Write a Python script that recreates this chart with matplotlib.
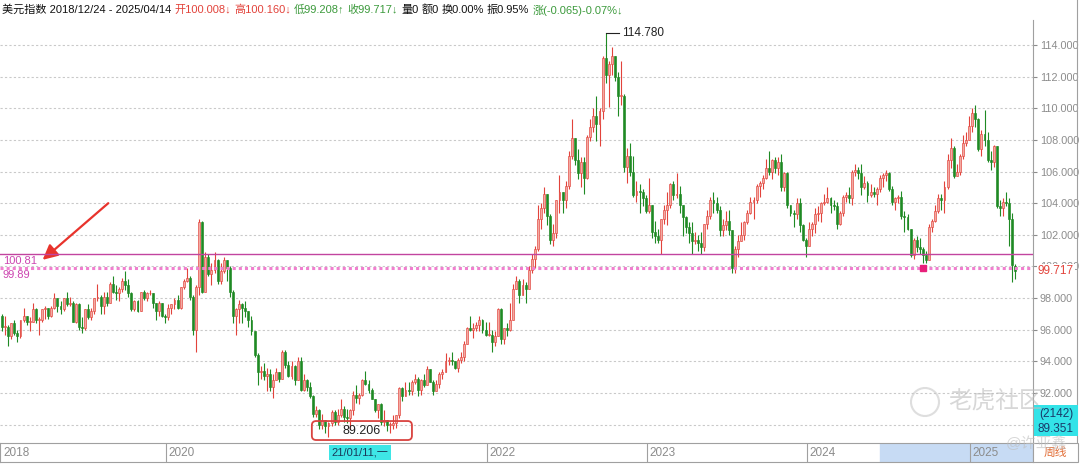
import numpy as np
import pandas as pd
import matplotlib
matplotlib.use('Agg')
import matplotlib.pyplot as plt
from matplotlib.ticker import FormatStrFormatter
from matplotlib.patches import FancyBboxPatch, Rectangle

plt.rcParams['font.family'] = ['Liberation Sans', 'Noto Sans CJK SC', 'DejaVu Sans']

# weekly US dollar index candles, 2018/12/24 .. 2025/04/14
start, end = '2018-12-24', '2025-04-14'
first_open = 96.9
last_open = 100.008

# header figures for the last week
change = -0.065
change_pct = -0.07
amplitude_pct = 0.95

c18 = [96.2]
h18 = [97.0]
l18 = [95.9]

c19 = [96.2, 95.6, 96.4, 95.8, 95.6, 96.6, 96.9, 96.5, 96.5, 97.3, 96.6, 96.6, 97.3, 97.4, 96.9, 97.4, 98.0, 97.5,
       97.3, 98.0, 97.6, 97.7, 96.5, 97.6, 96.2, 96.1, 97.3, 96.8, 97.2, 98.0, 98.1, 97.5, 98.1, 97.7, 98.9, 98.4,
       98.3, 98.6, 99.1, 98.8, 98.3, 97.3, 97.8, 97.2, 98.4, 98.0, 98.3, 98.3, 97.7, 97.2, 97.7, 96.9, 96.8]
h19 = [96.9, 96.3, 96.4, 96.6, 96.0, 96.6, 97.4, 96.9, 96.8, 97.7, 97.4, 96.8, 97.3, 97.5, 97.4, 97.5, 98.3, 98.0,
       97.8, 98.0, 98.4, 98.1, 97.8, 97.7, 97.7, 96.8, 97.3, 97.6, 97.4, 98.0, 98.9, 98.2, 98.4, 98.4, 99.0, 99.4,
       98.8, 98.7, 99.3, 99.7, 99.2, 98.4, 97.9, 97.9, 98.4, 98.5, 98.4, 98.5, 98.3, 97.7, 97.8, 97.7, 97.0]
l19 = [95.7, 95.0, 95.4, 95.7, 95.2, 95.5, 96.5, 96.3, 95.9, 96.5, 96.4, 95.7, 96.5, 96.7, 96.7, 96.8, 97.3, 97.1,
       97.0, 97.2, 97.5, 97.5, 96.5, 96.4, 96.0, 95.8, 96.0, 96.7, 96.6, 97.0, 97.8, 97.0, 97.0, 97.5, 97.8, 98.3,
       97.9, 97.8, 98.4, 98.5, 98.1, 97.2, 97.2, 97.1, 97.2, 97.9, 97.8, 98.2, 97.4, 96.6, 96.9, 96.8, 96.4]

c20 = [97.4, 97.6, 97.9, 97.4, 98.7, 99.1, 99.3, 98.1, 96.0, 98.7, 102.8, 98.4, 100.6, 99.5, 99.8, 100.4, 99.1,
       99.7, 100.4, 99.9, 98.4, 96.9, 97.3, 97.6, 97.4, 97.2, 96.6, 95.9, 94.4, 93.3, 93.4, 93.1, 93.2, 92.4, 92.8,
       93.3, 92.9, 94.6, 93.8, 93.1, 93.7, 92.8, 94.0, 92.2, 92.8, 92.4, 91.8, 90.7, 90.9, 90.0, 90.3, 89.9]
h20 = [97.6, 97.6, 98.0, 98.2, 98.7, 99.2, 99.9, 99.4, 98.2, 98.8, 103.0, 102.9, 100.9, 100.8, 100.2, 100.9, 100.5,
       100.2, 100.6, 100.4, 100.0, 98.5, 97.4, 97.9, 97.7, 97.8, 97.1, 96.9, 95.9, 94.5, 93.7, 93.9, 93.6, 93.5, 93.2,
       93.6, 93.3, 94.7, 94.7, 94.0, 94.0, 93.8, 94.3, 94.3, 93.2, 92.9, 92.7, 91.9, 91.2, 91.0, 90.7, 90.3]
l20 = [96.6, 97.0, 97.3, 97.3, 97.3, 98.6, 99.0, 97.9, 95.7, 94.6, 98.2, 98.3, 98.8, 99.4, 98.8, 99.6, 98.9,
       98.9, 99.6, 99.1, 98.1, 96.4, 95.7, 96.4, 96.4, 96.8, 96.2, 95.7, 94.3, 92.5, 92.9, 92.8, 92.1, 92.1, 91.7,
       92.8, 92.7, 92.9, 93.6, 93.0, 92.9, 92.5, 92.8, 92.1, 92.1, 92.1, 91.7, 90.5, 90.5, 89.7, 89.7, 89.5]

c21 = [90.1, 90.8, 90.2, 90.6, 91.0, 90.5, 90.4, 90.9, 91.9, 91.7, 91.9, 92.8, 92.6, 92.2, 91.6, 90.9, 91.3, 90.2,
       90.3, 90.0, 90.0, 90.1, 90.6, 92.3, 91.8, 92.2, 92.1, 92.7, 92.9, 92.2, 92.8, 92.5, 93.5, 92.7, 92.1, 92.6,
       93.2, 93.3, 94.0, 94.1, 94.0, 93.6, 94.1, 94.3, 95.1, 96.1, 96.0, 96.1, 96.3, 96.6, 96.0, 95.7]
h21 = [90.2, 90.9, 90.9, 91.0, 91.6, 91.2, 91.0, 91.0, 92.1, 92.5, 92.0, 92.9, 93.4, 92.8, 92.3, 91.6, 91.3, 91.4,
       90.9, 90.3, 90.2, 90.6, 90.6, 92.4, 92.4, 92.7, 92.7, 92.8, 93.2, 93.0, 92.9, 93.2, 93.7, 93.5, 92.8, 92.8,
       93.3, 93.5, 94.5, 94.3, 94.6, 94.0, 94.2, 94.6, 95.3, 96.2, 96.9, 96.4, 96.5, 96.9, 96.7, 96.5]
l21 = [89.206, 89.9, 90.0, 90.0, 90.5, 90.2, 90.1, 89.7, 90.6, 91.4, 91.3, 91.8, 92.5, 92.0, 91.6, 90.8, 90.4, 90.0,
       89.9, 89.6, 89.5, 89.7, 89.8, 90.4, 91.5, 91.8, 91.9, 91.9, 92.6, 91.8, 91.9, 92.4, 92.6, 92.7, 91.9, 92.1,
       92.3, 92.9, 93.3, 93.8, 93.8, 93.5, 93.3, 93.9, 94.0, 95.1, 95.9, 95.5, 95.9, 95.9, 95.8, 95.6]

c22 = [95.7, 95.2, 95.6, 97.3, 95.4, 96.1, 96.0, 96.6, 98.6, 99.1, 98.2, 98.8, 98.6, 99.8, 100.5, 101.1, 103.0,
       103.7, 104.6, 103.2, 101.7, 102.1, 104.2, 104.7, 104.2, 105.1, 107.0, 108.1, 106.7, 105.9, 106.6, 105.6,
       108.2, 108.8, 109.5, 109.0, 109.8, 113.2, 112.1, 112.8, 113.3, 112.0, 110.8, 110.8, 106.3, 107.0, 106.0,
       104.5, 104.8, 104.7, 104.3, 103.5]
h22 = [96.5, 96.0, 95.9, 97.4, 97.4, 96.1, 96.4, 97.7, 98.9, 99.4, 99.2, 99.2, 99.0, 100.0, 100.8, 101.3, 103.9,
       104.0, 105.0, 104.6, 103.3, 102.7, 104.2, 105.8, 104.7, 105.4, 107.3, 109.3, 108.1, 107.4, 106.9, 106.9,
       108.3, 109.3, 110.0, 110.8, 110.0, 113.3, 114.78, 113.0, 113.9, 113.1, 112.3, 113.0, 110.9, 107.5, 107.8,
       107.0, 105.4, 105.2, 104.9, 104.5]
l22 = [95.6, 94.6, 95.0, 95.6, 95.1, 95.1, 95.6, 95.9, 96.6, 98.6, 97.7, 98.2, 97.7, 98.6, 99.6, 99.9, 101.0,
       102.4, 103.4, 102.6, 101.4, 101.3, 101.8, 103.4, 103.4, 103.7, 104.9, 106.8, 106.4, 105.5, 105.0, 104.6,
       105.5, 107.9, 108.5, 107.9, 107.6, 109.3, 111.6, 110.1, 112.1, 111.7, 109.5, 110.2, 106.0, 105.3, 105.7,
       104.4, 104.1, 103.4, 103.8, 103.4]

c23 = [103.9, 102.2, 101.9, 101.7, 103.0, 103.6, 103.9, 105.2, 104.5, 104.6, 103.9, 103.1, 102.5, 102.1, 101.6,
       101.7, 101.5, 101.2, 102.7, 103.2, 104.2, 104.0, 103.6, 102.3, 102.6, 102.9, 102.3, 99.9, 101.1, 101.6,
       102.0, 102.8, 103.4, 104.1, 104.2, 105.1, 105.3, 105.6, 106.2, 106.0, 106.7, 106.2, 106.6, 105.0, 105.9,
       103.9, 103.4, 103.3, 104.0, 102.6, 101.7, 101.3]
h23 = [105.6, 103.9, 102.9, 102.4, 103.0, 103.9, 104.7, 105.3, 105.4, 105.9, 105.1, 103.9, 103.2, 102.8, 102.8,
       102.2, 102.0, 102.2, 102.7, 103.6, 104.4, 104.7, 104.4, 103.8, 103.0, 103.5, 103.6, 102.3, 101.3, 102.0,
       102.8, 102.9, 103.6, 104.4, 104.4, 105.2, 105.4, 105.8, 106.8, 107.3, 106.8, 106.9, 106.9, 107.1, 106.0,
       106.0, 103.9, 103.6, 104.3, 104.3, 102.7, 101.8]
l23 = [103.4, 101.8, 101.5, 101.5, 100.8, 102.7, 102.6, 103.7, 104.2, 104.3, 103.4, 101.9, 102.1, 101.5, 100.8,
       101.4, 101.0, 100.8, 101.0, 102.4, 103.0, 103.4, 103.4, 101.9, 101.9, 102.3, 102.0, 99.6, 99.6, 100.6,
       101.6, 101.7, 102.7, 103.3, 103.0, 104.0, 104.4, 104.9, 105.5, 105.8, 105.5, 105.9, 105.8, 104.8, 104.8,
       103.7, 103.2, 102.5, 103.0, 102.2, 101.6, 100.6]

c24 = [102.4, 102.7, 103.3, 103.4, 104.0, 104.1, 104.3, 103.9, 103.8, 102.7, 103.4, 104.4, 104.5, 104.3, 106.0,
       106.1, 105.9, 105.0, 105.3, 104.5, 104.7, 104.6, 104.9, 105.6, 105.8, 105.9, 104.9, 104.1, 104.3, 104.4,
       103.2, 103.1, 102.4, 100.7, 101.7, 101.2, 101.1, 100.7, 100.4, 102.5, 102.9, 103.5, 104.3, 104.2, 105.0,
       106.7, 107.5, 105.7, 106.0, 107.0, 107.8, 108.0, 108.9]
h24 = [102.8, 102.8, 103.7, 103.8, 104.1, 104.6, 105.0, 104.4, 104.2, 104.1, 103.5, 104.5, 104.7, 105.0, 106.1,
       106.5, 106.3, 106.5, 105.7, 105.4, 105.2, 105.0, 105.0, 105.8, 105.9, 106.1, 106.0, 105.1, 104.4, 104.5,
       104.8, 103.5, 103.3, 102.4, 101.8, 101.9, 101.8, 101.2, 101.0, 102.7, 103.0, 103.9, 104.6, 104.6, 105.4,
       107.1, 108.1, 107.6, 106.5, 107.1, 108.3, 108.5, 109.5]
l24 = [101.3, 101.9, 102.1, 102.9, 102.8, 103.9, 104.0, 103.4, 103.6, 102.4, 102.6, 103.2, 104.1, 104.0, 103.9,
       105.7, 105.5, 104.5, 104.9, 104.1, 104.4, 104.4, 103.9, 104.7, 105.0, 105.4, 104.8, 103.9, 103.6, 104.0,
       103.0, 102.2, 102.3, 100.6, 100.5, 100.9, 100.8, 100.2, 100.2, 100.4, 102.2, 102.8, 103.4, 103.6, 103.4,
       104.9, 106.2, 105.6, 105.7, 105.8, 106.8, 107.6, 108.0]

c25 = [109.7, 109.3, 107.4, 108.4, 108.0, 106.7, 106.6, 107.6, 103.8, 103.7, 104.1, 104.0, 103.0, 100.1, 99.717]
h25 = [110.0, 110.2, 109.4, 108.6, 109.9, 108.5, 107.3, 107.7, 107.6, 104.2, 104.3, 104.7, 104.3, 103.4, 100.16]
l25 = [108.5, 108.8, 107.3, 107.0, 107.6, 106.6, 106.1, 106.3, 103.7, 103.2, 103.2, 103.8, 101.3, 99.0, 99.208]

# reference lines drawn on the chart
line_solid = 100.81
line_dotted = 99.89
marker_date = '2024-09-16'
cursor_date = '2021-01-11'

closes = np.array(c18 + c19 + c20 + c21 + c22 + c23 + c24 + c25)
highs = np.array(h18 + h19 + h20 + h21 + h22 + h23 + h24 + h25)
lows = np.array(l18 + l19 + l20 + l21 + l22 + l23 + l24 + l25)
dates = pd.date_range(start, end, freq='W-MON')
n = len(dates)
if not (len(closes) == len(highs) == len(lows) == n):
    raise ValueError(f"lengths differ: {len(closes)} {len(highs)} {len(lows)} {n}")

opens = np.r_[first_open, closes[:-1]]
opens[-1] = last_open
highs = np.maximum(highs, np.maximum(opens, closes))
lows = np.minimum(lows, np.minimum(opens, closes))
idx = np.arange(n)

RED = '#e2433b'
GREEN = '#1f8a24'
W, H = 1080, 465

fig = plt.figure(figsize=(10.8, 4.65), dpi=100)
x_per_px = 1 / 3.08
ax = fig.add_axes([0, 23 / H, 1033 / W, 422 / H])
xlim = (-2 * x_per_px, 1031 * x_per_px)
ax.set_xlim(*xlim)
ax.set_ylim(88.905, 115.58)

# grid
ax.set_yticks(np.arange(90, 116, 2))
ax.yaxis.set_major_formatter(FormatStrFormatter('%.3f'))
ax.yaxis.tick_right()
ax.tick_params(axis='y', colors='#8c8c8c', labelsize=7.8, length=3, pad=2)
ax.tick_params(axis='x', bottom=False, labelbottom=False)
ax.grid(axis='y', color='#c9c9c9', linestyle=(0, (2, 2)), linewidth=0.8)
ax.set_axisbelow(True)
for s in ['top', 'left', 'bottom']:
    ax.spines[s].set_visible(False)
ax.spines['right'].set_color('#a0a0a0')

# candles
up = closes >= opens
dn = ~up
body_lo = np.minimum(opens, closes)
body_h = np.maximum(np.abs(closes - opens), 0.05)
ax.vlines(idx[up], lows[up], highs[up], color=RED, linewidth=0.8, zorder=2)
ax.vlines(idx[dn], lows[dn], highs[dn], color=GREEN, linewidth=0.8, zorder=2)
ax.bar(idx[up], body_h[up], bottom=body_lo[up], width=0.62, color='#f3aaa2',
       edgecolor=RED, linewidth=0.45, zorder=3)
ax.bar(idx[dn], body_h[dn], bottom=body_lo[dn], width=0.62, color=GREEN,
       edgecolor=GREEN, linewidth=0.45, zorder=3)

# horizontal reference lines
ax.axhline(line_solid, color='#c2449f', linewidth=1.0, zorder=4)
ax.axhline(line_dotted, color='#f07fcf', linewidth=2.2, linestyle=(0, (1, 1)), zorder=4)
ax.text(xlim[0] + 0.9, line_solid - 0.12, f'{line_solid:.2f}', color='#cc45b0', fontsize=8, va='top', ha='left')
ax.text(xlim[0] + 0.9, line_dotted - 0.12, f'{line_dotted:.2f}', color='#cc45b0', fontsize=8, va='top', ha='left')
mi = dates.get_loc(pd.Timestamp(marker_date))
ax.plot(mi, line_dotted, marker='s', markersize=5, color='#e81f7a', zorder=5)

# red arrow pointing at the line labels
ax.annotate('', xy=(13.2, 100.42), xytext=(34.5, 104.0),
            arrowprops=dict(arrowstyle='-|>,head_length=0.9,head_width=0.45', color='#e8332c',
                            linewidth=1.6, shrinkA=0, shrinkB=0))

# highest high
i_max = int(np.argmax(highs))
ax.plot([i_max, i_max + 4.3], [highs[i_max]] * 2, color='#222222', linewidth=0.8, zorder=5)
ax.text(i_max + 5.2, highs[i_max], f'{highs[i_max]:.3f}', fontsize=8.5, va='center', ha='left', color='#222222')

# lowest low box
i_min = int(np.argmin(lows))
bx0, bw = i_min - 5.4, 32.5
box = FancyBboxPatch((bx0, 89.03), bw, 1.2, boxstyle='round,pad=0,rounding_size=1.4',
                     mutation_aspect=3.08 / 15.818, facecolor='none', edgecolor='#d9433f',
                     linewidth=1.3, zorder=6)
ax.add_patch(box)
ax.text(bx0 + bw / 2, 89.63, f'{lows[i_min]:.3f}', fontsize=9, ha='center', va='center', color='#222222', zorder=6)

# last price on the right axis
ax.text(1.0 + 5 / 1033, closes[-1], f'{closes[-1]:.3f}', transform=ax.get_yaxis_transform(),
        color=RED, fontsize=8.5, va='center', ha='left',
        bbox=dict(facecolor='white', edgecolor='none', pad=0.5), zorder=7)

# bottom date bar
bx = fig.add_axes([0, 3 / H, 1033 / W, 19 / H])
bx.set_xlim(*xlim)
bx.set_ylim(0, 1)
bx.set_xticks([])
bx.set_yticks([])
for s in bx.spines.values():
    s.set_color('#a0a0a0')
bx.axvspan(285, xlim[1], color='#c7dbf4', zorder=0)
year_idx = {'2018': 0}
for yr in ['2020', '2022', '2023', '2024', '2025']:
    year_idx[yr] = int(np.argmax(dates.year == int(yr)))
for yr, i in year_idx.items():
    if i > 0:
        bx.axvline(i - 0.6, color='#a0a0a0', linewidth=0.8)
    bx.text(i + (0.5 if i == 0 else 0.2), 0.5, yr, fontsize=8.5, color='#8c8c8c', va='center', ha='left')
ci = dates.get_loc(pd.Timestamp(cursor_date))
bx.text(ci, 0.5, f"{dates[ci]:%y/%m/%d},一", fontsize=8, color='#1a3a5a', va='center', ha='left',
        bbox=dict(facecolor='#3ee6e6', edgecolor='none', pad=1.5))

# header
fig.canvas.draw()
r = fig.canvas.get_renderer()
header = [
    (f'美元指数 {dates[0]:%Y/%m/%d} - {dates[-1]:%Y/%m/%d}', '#111111'),
    (f'开{opens[-1]:.3f}↓', RED),
    (f'高{highs[-1]:.3f}↓', RED),
    (f'低{lows[-1]:.3f}↑', '#3c9a3c'),
    (f'收{closes[-1]:.3f}↓', '#3c9a3c'),
    ('量0', '#111111'), ('额0', '#111111'), ('换0.00%', '#111111'),
    (f'振{amplitude_pct:.2f}%', '#111111'),
    (f'涨({change:.3f}){change_pct:.2f}%↓', '#3c9a3c'),
]
x = 2
for txt, col in header:
    t = fig.text(x / W, 1 - 10 / H, txt, color=col, fontsize=8, va='center', ha='left')
    bb = t.get_window_extent(renderer=r)
    x = bb.x1 + 3

# right side boxes
fig.patches.append(Rectangle((1034 / W, 29 / H), 44 / W, 31 / H, transform=fig.transFigure,
                             facecolor='#33e3e8', edgecolor='none', zorder=5))
fig.text(1056 / W, 1 - 414 / H, '(2142)', fontsize=8.5, color='#1a3a6a', ha='center', va='center', zorder=6)
fig.text(1056 / W, 1 - 429 / H, '89.351', fontsize=8.5, color='#1a3a6a', ha='center', va='center', zorder=6)
fig.patches.append(Rectangle((1033 / W, 3 / H), 45 / W, 19 / H, transform=fig.transFigure,
                             facecolor='white', edgecolor='#a0a0a0', linewidth=0.8, zorder=5))
fig.text(1055 / W, 1 - 453 / H, '周线', fontsize=8.5, color='#e2703a', ha='center', va='center', zorder=6)
fig.lines.append(plt.Line2D([1077 / W, 1077 / W], [22 / H, 1], transform=fig.transFigure,
                            color='#a0a0a0', linewidth=0.8))

# watermark
fig.text(948 / W, 1 - 402 / H, '老虎社区', fontsize=17, color='#bdbdbd', alpha=0.6, ha='left', va='center', zorder=8)
fig.text(1006 / W, 1 - 444 / H, '@许亚鑫', fontsize=11, color='#bdbdbd', alpha=0.6, ha='left', va='center', zorder=8)
ring = plt.Circle((925, H - 402), 14, transform=None, fill=False, edgecolor='#c8c8c8', linewidth=1.5, alpha=0.6)
fig.patches.append(ring)

fig.savefig('out.png', dpi=100)
